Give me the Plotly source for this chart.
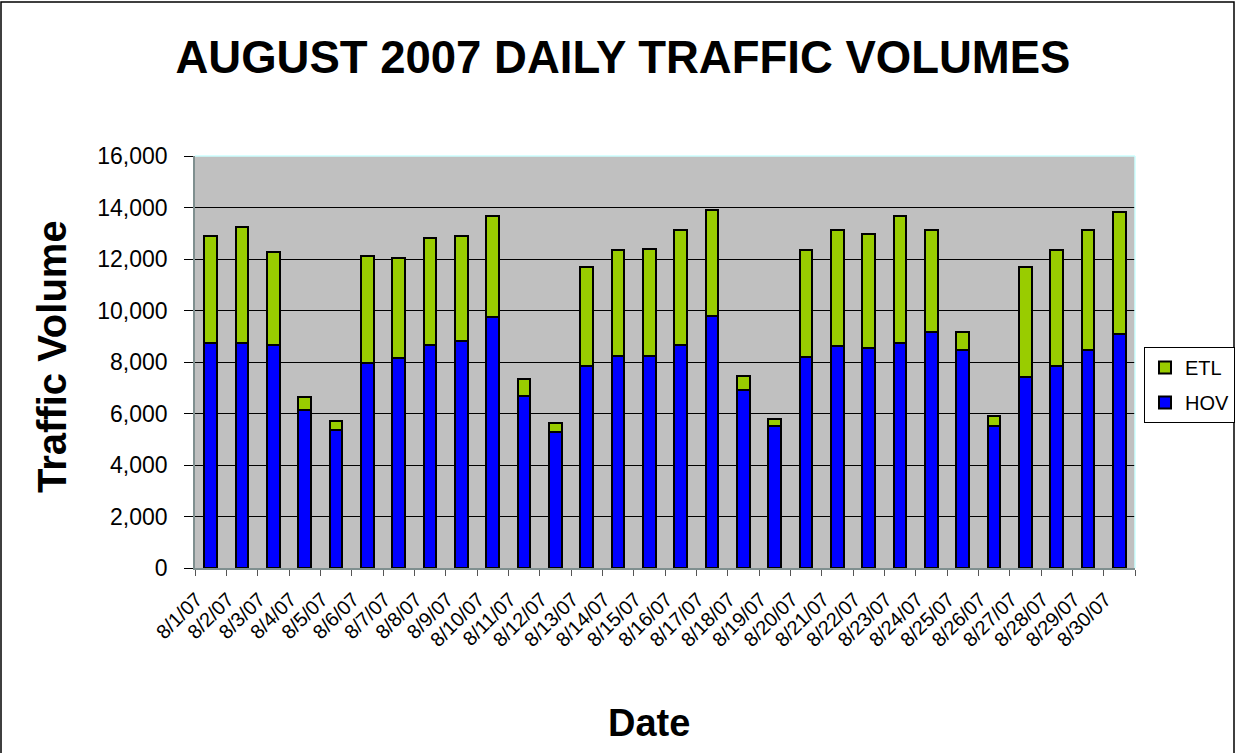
import plotly.graph_objects as go

dates = ["8/1/07", "8/2/07", "8/3/07", "8/4/07", "8/5/07", "8/6/07", "8/7/07", "8/8/07",
         "8/9/07", "8/10/07", "8/11/07", "8/12/07", "8/13/07", "8/14/07", "8/15/07",
         "8/16/07", "8/17/07", "8/18/07", "8/19/07", "8/20/07", "8/21/07", "8/22/07",
         "8/23/07", "8/24/07", "8/25/07", "8/26/07", "8/27/07", "8/28/07", "8/29/07",
         "8/30/07"]

hov = [8740, 8740, 8670, 6140, 5350, 7960, 8170, 8670, 8820, 9730,
       6690, 5270, 7830, 8250, 8250, 8670, 9800, 6900, 5500, 8180,
       8610, 8530, 8740, 9150, 8470, 5500, 7400, 7830, 8470, 9100]

total = [12890, 13240, 12270, 6630, 5710, 12120, 12050, 12830, 12890, 13670,
         7330, 5640, 11700, 12340, 12400, 13110, 13890, 7470, 5790, 12340,
         13110, 12970, 13680, 13110, 9150, 5900, 11700, 12340, 13110, 13830]

etl = [t - h for t, h in zip(total, hov)]

y_ticks = [0, 2000, 4000, 6000, 8000, 10000, 12000, 14000, 16000]

FONT = "Arial, Liberation Sans, sans-serif"

fig = go.Figure()
fig.add_trace(go.Bar(x=dates, y=hov, name="HOV", legendgroup="hov", legendrank=2,
                     marker=dict(color="#0000FF", line=dict(color="black", width=2))))
fig.add_trace(go.Bar(x=dates, y=etl, name="ETL", legendgroup="etl", legendrank=1,
                     marker=dict(color="#99CC00", line=dict(color="black", width=2))))

fig.update_layout(
    width=1236, height=753, autosize=False,
    barmode="stack", bargap=0.6,
    paper_bgcolor="white", plot_bgcolor="#C0C0C0",
    margin=dict(l=195, r=101, t=156, b=185, autoexpand=False),
    font=dict(family=FONT, color="black"),
    title=dict(text="<b>AUGUST 2007 DAILY TRAFFIC VOLUMES</b>",
               font=dict(family=FONT, size=45.5, color="black"),
               x=0.504, xanchor="center", xref="container",
               y=0.924, yanchor="middle", yref="container"),
    legend=dict(xref="container", yref="container",
                x=1144 / 1236, y=1 - 347 / 753, xanchor="left", yanchor="top",
                bgcolor="white", bordercolor="black", borderwidth=1,
                font=dict(family=FONT, size=20, color="black"),
                traceorder="grouped", tracegroupgap=6),
    showlegend=True,
)

fig.update_xaxes(
    type="category", tickangle=-45, tickson="boundaries",
    ticks="outside", ticklen=6, tickcolor="#555555",
    tickfont=dict(family=FONT, size=20, color="black"),
    ticklabelshift=-14, ticklabelstandoff=10,
    showline=True, linecolor="#7F8F8F", linewidth=1.5,
    showgrid=False, mirror=False, automargin=False,
)
fig.update_yaxes(
    range=[0, 16000], tickvals=y_ticks, tickformat=",",
    ticks="outside", ticklen=9, tickcolor="black",
    tickfont=dict(family=FONT, size=23, color="black"),
    ticklabelstandoff=12,
    showline=True, linecolor="#7F8F8F", linewidth=1.5,
    showgrid=True, gridcolor="black", gridwidth=1,
    zeroline=False, automargin=False,
)

# plot area top/right light border and outer chart border
fig.add_shape(type="line", xref="paper", yref="paper", x0=0, x1=1, y0=1, y1=1,
              line=dict(color="#CCFFFF", width=1.5))
fig.add_shape(type="line", xref="paper", yref="paper", x0=1, x1=1, y0=0, y1=1,
              line=dict(color="#CCFFFF", width=1.5))
fig.add_shape(type="rect", xref="paper", yref="paper",
              x0=(1 - 195) / 940, x1=(1234 - 195) / 940,
              y0=(568 - 760) / 412, y1=(568 - 2) / 412,
              line=dict(color="black", width=1.5), layer="below")

fig.add_annotation(text="<b>Traffic Volume</b>", xref="paper", yref="paper",
                   x=(52 - 195) / 940, y=(568 - 357) / 412, textangle=-90,
                   showarrow=False, xanchor="center", yanchor="middle",
                   font=dict(family=FONT, size=40, color="black"))
fig.add_annotation(text="<b>Date</b>", xref="paper", yref="paper",
                   x=(649 - 195) / 940, y=(568 - 723) / 412,
                   showarrow=False, xanchor="center", yanchor="middle",
                   font=dict(family=FONT, size=38, color="black"))

post = ("document.body.style.margin='0';"
        "document.body.style.overflow='hidden';"
        "document.documentElement.style.overflow='hidden';"
        "var gd=document.getElementById('{plot_id}');"
        "Plotly.relayout(gd,{width:1236,height:753});")

fig.write_html("out.html", post_script=post,
               config={"responsive": False, "displayModeBar": False})
